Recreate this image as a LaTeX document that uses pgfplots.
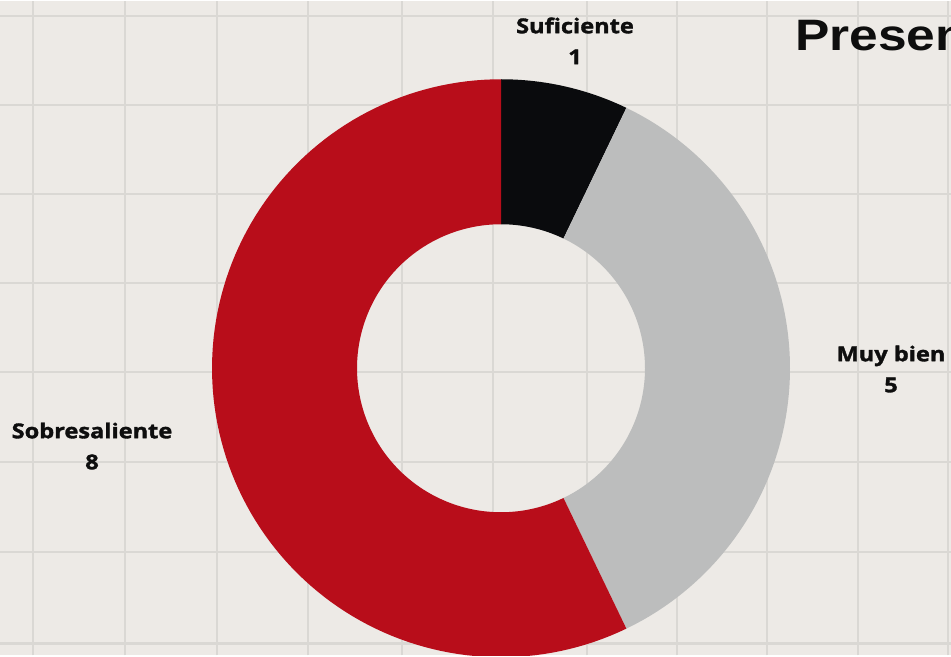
\documentclass[border=0pt]{standalone}
\usepackage{pgfplots}
\pgfplotsset{compat=1.18}
\usepackage{fontspec}
\setmainfont{Open Sans}
\newfontfamily\lblfont{Open Sans}[FakeStretch=1.15, BoldFeatures={FakeBold=1.6}]
\newfontfamily\titlefont{Liberation Sans}[FakeStretch=1.17]
\definecolor{bgpaper}{HTML}{EDEAE6}
\definecolor{gridc}{HTML}{DAD8D4}
\definecolor{cred}{HTML}{B80D1A}
\definecolor{cgray}{HTML}{BCBDBD}
\definecolor{cblack}{HTML}{0A0B0D}
\definecolor{ctext}{HTML}{0E0E0E}
% data
\def\vSuf{1}
\def\vMuy{5}
\def\vSob{8}
\pgfmathsetmacro\vTot{\vSuf+\vMuy+\vSob}
\pgfmathsetmacro\SufA{90}
\pgfmathsetmacro\SufB{\SufA-360*\vSuf/\vTot}
\pgfmathsetmacro\MuyA{\SufB}
\pgfmathsetmacro\MuyB{\MuyA-360*\vMuy/\vTot}
\pgfmathsetmacro\SobA{\MuyB}
\pgfmathsetmacro\SobB{\SobA-360*\vSob/\vTot}
\def\cx{501}
\def\cy{287}
\def\Rout{289}
\def\Rin{144}
\newcommand\ringslice[3]{%
  \addplot[fill=#3, draw=none, domain=0:3, samples=361, variable=\t]
  ({\cx+(\Rout-(\Rout-\Rin)*min(max(\t-1,0),1))*cos(#1+(#2-#1)*min(\t,1)-(#2-#1)*max(\t-2,0))},
   {\cy+(\Rout-(\Rout-\Rin)*min(max(\t-1,0),1))*sin(#1+(#2-#1)*min(\t,1)-(#2-#1)*max(\t-2,0))});
}
\begin{document}
\begin{tikzpicture}[trim axis left, trim axis right]
\begin{axis}[
  width=951pt, height=654pt, scale only axis,
  xmin=0, xmax=951, ymin=0, ymax=654,
  axis line style={draw=none},
  axis background/.style={fill=bgpaper},
  xtick={33,125,217,308,402,493,587,677,767,858,948},
  ytick={12,103,193,283,372,461,550,639},
  xticklabels={}, yticklabels={},
  tick label style={inner sep=0pt, font=\tiny},
  major tick length=0pt,
  grid=major,
  major grid style={draw=gridc, line width=2.5pt},
  clip=true,
]
\ringslice{\SufA}{\SufB}{cblack}
\ringslice{\MuyA}{\MuyB}{cgray}
\ringslice{\SobA}{\SobB}{cred}
\tikzset{lbl/.style={anchor=base, inner sep=0pt, font=\lblfont\bfseries\fontsize{20.5}{24}\selectfont, text=ctext}}
\node[lbl] at (axis cs:575,622) {Suficiente};
\node[lbl] at (axis cs:575,591) {1};
\node[lbl] at (axis cs:891,294) {Muy bien};
\node[lbl] at (axis cs:891,263) {5};
\node[lbl] at (axis cs:92,217) {Sobresaliente};
\node[lbl] at (axis cs:92,186) {8};
\node[anchor=base west, inner sep=0pt, font=\titlefont\bfseries\fontsize{44}{50}\selectfont, text=ctext] at (axis cs:795,605) {Presentación};
\end{axis}
\end{tikzpicture}
\end{document}
